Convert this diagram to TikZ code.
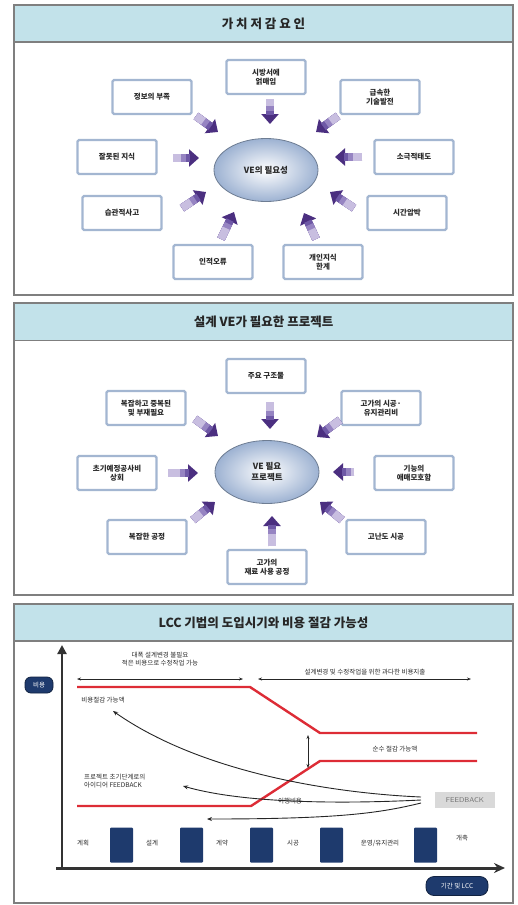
\documentclass[tikz,border=0pt]{standalone}
\usepackage{fontspec}
\newfontfamily\kr{Noto Sans CJK KR}
\usetikzlibrary{shapes.geometric,arrows.meta}
\definecolor{titlebg}{HTML}{C2E2EA}
\definecolor{framec}{HTML}{7F7F7F}
\definecolor{boxline}{HTML}{A3B6D1}
\definecolor{purpdark}{HTML}{4B2F80}
\definecolor{purpmid}{HTML}{6E58A6}
\definecolor{purpmid2}{HTML}{9684C2}
\definecolor{purplight}{HTML}{C8BEE0}
\definecolor{ellout}{HTML}{9DB2D2}
\definecolor{navy}{HTML}{1E3A6D}
\definecolor{redl}{HTML}{DD2C36}
\definecolor{txt}{HTML}{2A2A2A}
\newcommand{\fatarr}[2]{%
  \draw[fatdark] (#1) -- (#2);
  \draw[fatlay=purpmid, shorten >=9pt] (#1) -- (#2);
  \draw[fatlay=purpmid2, shorten >=13pt] (#1) -- (#2);
  \draw[fatlay=purplight, shorten >=18pt] (#1) -- (#2);}
\begin{document}
\begin{tikzpicture}[x=1pt,y=-1pt,
  panel/.style={draw=framec, line width=1.5pt},
  titlebar/.style={fill=titlebg, draw=framec, line width=1.2pt, minimum width=499pt, minimum height=37pt, inner sep=0pt, font=\kr\bfseries\fontsize{12.5}{14}\selectfont, text=black!85},
  fbox/.style={draw=boxline, line width=2.2pt, fill=white, rounded corners=1.5pt, minimum width=79pt, minimum height=34pt, align=center, inner sep=1pt, font=\kr\bfseries\fontsize{7.5}{9}\selectfont, text=txt},
  core/.style={ellipse, draw=ellout!70!black, line width=0.8pt, inner color=white, outer color=ellout, minimum width=104pt, minimum height=63pt, align=center, font=\kr\bfseries\fontsize{8.5}{10.5}\selectfont, text=txt},
  fatdark/.style={draw=purpdark, line width=8pt, -{Triangle[length=10pt,width=17pt]}},
  fatlay/.style={draw=#1, line width=8pt},
  lbl/.style={font=\kr\fontsize{6.5}{8}\selectfont, text=txt, inner sep=1pt, align=center},
  pill/.style={fill=navy, draw=navy!60!black, line width=0.8pt, rounded corners=6pt, text=white, font=\kr\fontsize{6.5}{8}\selectfont, inner sep=1pt},
  bar/.style={fill=navy, minimum width=23pt, minimum height=35pt, inner sep=0pt, rounded corners=1pt},
  redline/.style={draw=redl, line width=2.4pt, line join=miter},
  curv/.style={draw=black!85, line width=0.9pt, -{Stealth[length=5pt,width=4pt]}},
  dbl/.style={draw=black!85, line width=0.6pt, {Stealth[length=4pt,width=3pt]}-{Stealth[length=4pt,width=3pt]}}
]
\useasboundingbox (0,0) rectangle (518,905);

% ================= Panel 1 =================
\draw[panel] (14,5) rectangle (513,295);
\node[titlebar] (t1) at (263.5,23.5) {가 치 저 감 요 인};
\node[core] (c1) at (266,170) {VE의 필요성};
\node[fbox] (b11) at (266,77) {시방서에\\얽매임};
\node[fbox] (b12) at (152,97) {정보의 부족};
\node[fbox] (b13) at (380,97) {급속한\\기술발전};
\node[fbox] (b14) at (117,157) {잘못된 지식};
\node[fbox] (b15) at (414,157) {소극적태도};
\node[fbox] (b16) at (122,213) {습관적사고};
\node[fbox] (b17) at (407,213) {시간압박};
\node[fbox] (b18) at (213,262) {인적오류};
\node[fbox] (b19) at (323,262) {개인지식\\한계};
\coordinate (a11s) at (270,99);  \coordinate (a11e) at (270,124);
\coordinate (a12s) at (196,116); \coordinate (a12e) at (218,132);
\coordinate (a13s) at (338,116); \coordinate (a13e) at (316,132);
\coordinate (a14s) at (173,158); \coordinate (a14e) at (199,158);
\coordinate (a15s) at (362,157); \coordinate (a15e) at (335,157);
\coordinate (a16s) at (182,208); \coordinate (a16e) at (206,192);
\coordinate (a17s) at (354,208); \coordinate (a17e) at (330,192);
\coordinate (a18s) at (221,239); \coordinate (a18e) at (234,212);
\coordinate (a19s) at (316,239); \coordinate (a19e) at (304,213);
\fatarr{a11s}{a11e}\fatarr{a12s}{a12e}\fatarr{a13s}{a13e}
\fatarr{a14s}{a14e}\fatarr{a15s}{a15e}\fatarr{a16s}{a16e}
\fatarr{a17s}{a17e}\fatarr{a18s}{a18e}\fatarr{a19s}{a19e}

% ================= Panel 2 =================
\draw[panel] (14,303) rectangle (513,595);
\node[titlebar] (t2) at (263.5,322) {설계 VE가 필요한 프로젝트};
\node[core] (c2) at (267,472) {VE 필요\\프로젝트};
\node[fbox] (b21) at (266,376) {주요 구조물};
\node[fbox] (b22) at (146,408) {복잡하고 중복된\\및 부재필요};
\node[fbox] (b23) at (381,408) {고가의 시공·\\유지관리비};
\node[fbox] (b24) at (117,473) {초기예정공사비\\상회};
\node[fbox] (b25) at (414,473) {기능의\\애매모호함};
\node[fbox] (b26) at (147,537) {복잡한 공정};
\node[fbox] (b27) at (386,537) {고난도 시공};
\node[fbox] (b28) at (267,567) {고가의\\재료 사용 공정};
\coordinate (a21s) at (270,402); \coordinate (a21e) at (270,429);
\coordinate (a22s) at (195,419); \coordinate (a22e) at (218,436);
\coordinate (a23s) at (340,420); \coordinate (a23e) at (317,437);
\coordinate (a24s) at (168,473); \coordinate (a24e) at (198,473);
\coordinate (a25s) at (354,472); \coordinate (a25e) at (333,472);
\coordinate (a26s) at (193,520); \coordinate (a26e) at (215,502);
\coordinate (a27s) at (342,520); \coordinate (a27e) at (320,502);
\coordinate (a28s) at (272,546); \coordinate (a28e) at (272,516);
\fatarr{a21s}{a21e}\fatarr{a22s}{a22e}\fatarr{a23s}{a23e}
\fatarr{a24s}{a24e}\fatarr{a25s}{a25e}\fatarr{a26s}{a26e}
\fatarr{a27s}{a27e}\fatarr{a28s}{a28e}

% ================= Panel 3 =================
\draw[panel] (14,604) rectangle (513,903);
\node[titlebar] (t3) at (263.5,622.5) {LCC 기법의 도입시기와 비용 절감 가능성};

% axes
\coordinate (o) at (62,868);
\coordinate (ytop) at (62,645);
\coordinate (xs) at (56,868);
\coordinate (xend) at (505,868);
\draw[draw=black!80, line width=2.5pt, -{Triangle[length=9pt,width=9pt]}] (o) -- (ytop);
\draw[draw=black!80, line width=3pt, -{Stealth[length=11pt,width=10pt]}] (xs) -- (xend);
\node[pill, minimum width=28pt, minimum height=16pt] (ylab) at (39,685) {비용};
\node[pill, minimum width=62pt, minimum height=19pt, rounded corners=8pt] (xlab) at (457,886) {기간 및 LCC};

% top ranges
\node[lbl] (topl) at (160,659) {대폭 설계변경 불필요\\적은 비용으로 수정작업 가능};
\coordinate (r1a) at (77,679); \coordinate (r1b) at (243,679);
\draw[dbl] (r1a) -- (r1b);
\node[lbl] (topr) at (365,672) {설계변경 및 수정작업을 위한 과다한 비용지출};
\coordinate (r2a) at (258,679); \coordinate (r2b) at (471,679);
\draw[dbl] (r2a) -- (r2b);

% red lines
\coordinate (u1) at (77,687); \coordinate (u2) at (250,687);
\coordinate (u3) at (320,733); \coordinate (u4) at (477,733);
\coordinate (l1) at (77,806); \coordinate (l2) at (251,806);
\coordinate (l3) at (320,761); \coordinate (l4) at (477,761);
\draw[redline] (u1) -- (u2) -- (u3) -- (u4);
\draw[redline] (l1) -- (l2) -- (l3) -- (l4);
\coordinate (v1) at (308,735); \coordinate (v2) at (308,768);
\draw[dbl, line width=0.8pt] (v1) -- (v2);

% labels
\node[lbl] (save) at (103,700) {비용절감 가능액};
\node[lbl] (net) at (395,749) {순수 절감 가능액};
\node[lbl, align=left, anchor=west] (idea) at (83,781) {프로젝트 초기단계로의\\아이디어 FEEDBACK};
\node[lbl, fill=white, inner sep=0.5pt] (exe) at (290,801) {이행비용};
\node[fill=black!15, minimum width=60pt, minimum height=16pt, inner sep=0pt, text=black!55, font=\sffamily\fontsize{7}{8}\selectfont] (fb) at (465,800) {FEEDBACK};

% feedback curves
\coordinate (fa) at (421,797); \coordinate (ta) at (113,711);
\coordinate (fbb) at (421,800); \coordinate (tb) at (183,786);
\coordinate (fc) at (421,803); \coordinate (tc) at (207,819);
\draw[curv] (fa) .. controls (330,793) and (200,772) .. (ta);
\draw[curv] (fbb) .. controls (320,805) and (235,801) .. (tb);
\draw[curv] (fc) .. controls (380,813) and (340,819) .. (tc);

% phase bars
\node[bar] (p1) at (121.5,845) {};
\node[bar] (p2) at (191.5,845) {};
\node[bar] (p3) at (261.5,845) {};
\node[bar] (p4) at (331.5,845) {};
\node[bar] (p5) at (425.5,845) {};
\node[lbl] (ph1) at (83,843) {계획};
\node[lbl] (ph2) at (152,843) {설계};
\node[lbl] (ph3) at (222,843) {계약};
\node[lbl] (ph4) at (293,843) {시공};
\node[lbl] (ph5) at (380,843) {운영/유지관리};
\node[lbl] (ph6) at (462,838) {개축};
\end{tikzpicture}
\end{document}
